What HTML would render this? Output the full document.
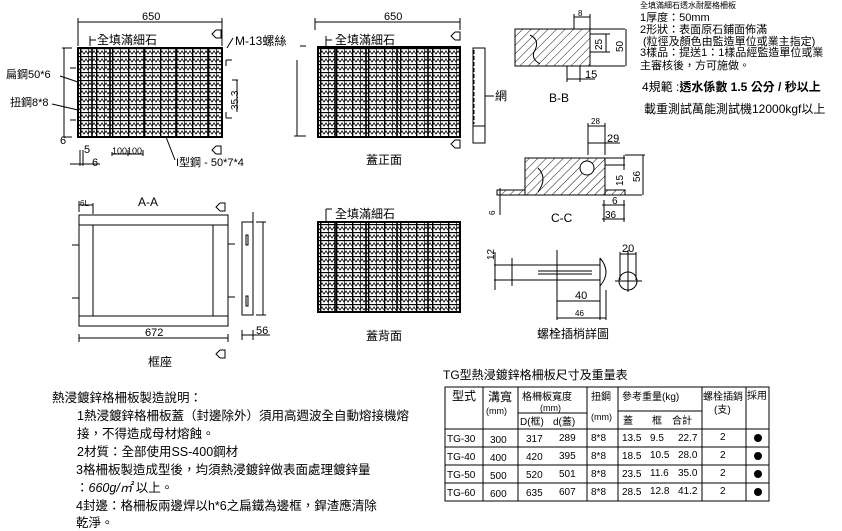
<!DOCTYPE html>
<html><head><meta charset="utf-8">
<style>
html,body{margin:0;padding:0;background:#fff;}
svg{display:block;}
text{font-family:"Liberation Sans","Noto Sans CJK TC",sans-serif;fill:#000;}
.s{font-size:11px;}
.m{font-size:12px;}
.n{font-size:12.5px;}
</style></head>
<body>
<svg width="842" height="531" viewBox="0 0 842 531" xmlns="http://www.w3.org/2000/svg">
<defs>
<pattern id="g" width="16" height="8" patternUnits="userSpaceOnUse">
<rect width="16" height="8" fill="#fff"/>
<rect x="0" y="0" width="16" height="1.2" fill="#000"/>
<polyline points="0,6 2,3 4,6 6,3 8,6 10,3 12,6 14,3 16,6" fill="none" stroke="#000" stroke-width="0.8"/>
<rect x="0" y="0" width="1.4" height="8" fill="#000"/>
<rect x="8" y="0" width="0.7" height="8" fill="#000"/>
</pattern>
<pattern id="h" width="6" height="6" patternUnits="userSpaceOnUse" patternTransform="rotate(45)">
<line x1="0" y1="0" x2="0" y2="6" stroke="#000" stroke-width="0.9"/>
</pattern>
</defs>
<g stroke="#000" fill="none" stroke-width="1">

<!-- top-left grating -->
<line x1="78" y1="22" x2="222" y2="22"/>
<line x1="78" y1="18" x2="78" y2="46"/><line x1="222" y1="18" x2="222" y2="46"/>
<rect x="78" y="48" width="144" height="89" fill="url(#g)" stroke-width="2"/>
<line x1="92" y1="48" x2="92" y2="137" stroke-width="1.6"/>
<line x1="110" y1="48" x2="110" y2="137" stroke-width="1.6"/>
<line x1="144" y1="48" x2="144" y2="137" stroke-width="1.6"/>
<line x1="176" y1="48" x2="176" y2="137" stroke-width="1.6"/>
<line x1="208" y1="48" x2="208" y2="137" stroke-width="1.6"/>
<line x1="62" y1="48" x2="72" y2="48"/><line x1="62" y1="137" x2="72" y2="137"/>
<line x1="64" y1="48" x2="64" y2="137"/>
<line x1="70" y1="68" x2="76" y2="68"/><line x1="70" y1="120" x2="76" y2="120"/>
<line x1="90" y1="36" x2="90" y2="46"/><line x1="90" y1="40" x2="96" y2="40"/>
<line x1="60" y1="76" x2="78" y2="82"/><line x1="52" y1="104" x2="78" y2="110"/>
<line x1="226" y1="60" x2="232" y2="60"/><line x1="226" y1="66" x2="226" y2="60"/>
<line x1="226" y1="118" x2="232" y2="118"/><line x1="226" y1="112" x2="226" y2="118"/>
<line x1="237" y1="80" x2="237" y2="112"/><line x1="232" y1="80" x2="238" y2="80"/>
<line x1="297" y1="60" x2="297" y2="136"/><line x1="294" y1="136" x2="300" y2="136"/>
<line x1="227" y1="48" x2="233" y2="38"/>
<line x1="166" y1="137" x2="175" y2="160"/>
<line x1="112" y1="152" x2="112" y2="156"/><line x1="112" y1="154" x2="143" y2="154"/>
<line x1="128" y1="150" x2="128" y2="156"/><line x1="143" y1="150" x2="143" y2="156"/>
<line x1="80" y1="150" x2="80" y2="166"/><line x1="83" y1="150" x2="83" y2="166"/>
<line x1="70" y1="164" x2="100" y2="164"/>
<path d="M216 30 l-4 4 4 4 M216 30 h5 v8 h-5" />
<path d="M216 146 l-4 4 4 4 M216 146 h5 v8 h-5" />

<!-- cover front -->
<line x1="315" y1="22" x2="460" y2="22"/>
<line x1="315" y1="18" x2="315" y2="30"/><line x1="460" y1="18" x2="460" y2="30"/>
<rect x="318" y="47" width="142" height="90" fill="url(#g)" stroke-width="2"/>
<line x1="335" y1="47" x2="335" y2="137" stroke-width="1.6"/>
<line x1="366" y1="47" x2="366" y2="137" stroke-width="1.6"/>
<line x1="397" y1="47" x2="397" y2="137" stroke-width="1.6"/>
<line x1="428" y1="47" x2="428" y2="137" stroke-width="1.6"/>
<line x1="326" y1="36" x2="326" y2="46"/><line x1="326" y1="40" x2="332" y2="40"/>
<line x1="300" y1="46" x2="306" y2="46"/><line x1="300" y1="136" x2="306" y2="136"/>
<path d="M455 32 l-4 4 4 4 M455 32 h5 v8 h-5" />
<path d="M455 140 l-4 4 4 4 M455 140 h5 v8 h-5" />
<rect x="473" y="48" width="12" height="95"/>
<line x1="474" y1="50" x2="474" y2="124" stroke-dasharray="4,2"/>
<line x1="473" y1="126" x2="485" y2="126"/>
<line x1="485" y1="96" x2="494" y2="96"/>

<!-- frame A-A -->
<rect x="79" y="215" width="149" height="111"/>
<line x1="79" y1="225" x2="228" y2="225"/><line x1="79" y1="316" x2="228" y2="316"/>
<line x1="93" y1="225" x2="93" y2="316"/><line x1="213" y1="225" x2="213" y2="316"/>
<line x1="79" y1="205" x2="93" y2="205"/><line x1="79" y1="201" x2="79" y2="212"/><line x1="93" y1="203" x2="93" y2="214"/>
<line x1="72" y1="245" x2="79" y2="245"/><line x1="72" y1="298" x2="79" y2="298"/>
<line x1="228" y1="244" x2="235" y2="244"/><line x1="228" y1="297" x2="235" y2="297"/>
<line x1="79" y1="338" x2="228" y2="338"/>
<line x1="79" y1="334" x2="79" y2="342"/><line x1="228" y1="334" x2="228" y2="342"/>
<path d="M220 203 l-4 4 4 4 M220 203 h5 v8 h-5" />
<path d="M220 350 l-4 4 4 4 M220 350 h5 v8 h-5" />
<rect x="242" y="222" width="11" height="93"/>
<rect x="246" y="235" width="2" height="10"/><rect x="246" y="296" width="2" height="10"/>
<line x1="253" y1="212" x2="253" y2="315"/>
<line x1="256" y1="222" x2="266" y2="222"/><line x1="256" y1="315" x2="266" y2="315"/>
<line x1="263" y1="222" x2="263" y2="315"/>
<line x1="242" y1="335" x2="270" y2="335"/><line x1="242" y1="330" x2="242" y2="340"/><line x1="253" y1="330" x2="253" y2="340"/>

<!-- cover back -->
<rect x="318" y="222" width="142" height="90" fill="url(#g)" stroke-width="2"/>
<line x1="335" y1="222" x2="335" y2="312" stroke-width="1.6"/>
<line x1="366" y1="222" x2="366" y2="312" stroke-width="1.6"/>
<line x1="397" y1="222" x2="397" y2="312" stroke-width="1.6"/>
<line x1="428" y1="222" x2="428" y2="312" stroke-width="1.6"/>
<line x1="326" y1="209" x2="326" y2="221"/><line x1="326" y1="209" x2="332" y2="209"/>

<!-- B-B -->
<rect x="515" y="29" width="75" height="37" fill="url(#h)"/>
<line x1="515" y1="29" x2="625" y2="29"/><line x1="515" y1="66" x2="625" y2="66"/>
<line x1="590" y1="29" x2="590" y2="66"/>
<line x1="574" y1="14" x2="574" y2="29"/><line x1="590" y1="14" x2="590" y2="29"/><line x1="574" y1="17" x2="590" y2="17"/>
<line x1="590" y1="34" x2="610" y2="34"/><line x1="590" y1="52" x2="610" y2="52"/><line x1="606" y1="34" x2="606" y2="52"/>
<line x1="626" y1="29" x2="626" y2="66"/>
<line x1="567" y1="66" x2="567" y2="82"/><line x1="580" y1="66" x2="580" y2="82"/><line x1="567" y1="79" x2="595" y2="79"/>
<path d="M530 35 q10 5 5 15 q-5 8 5 14"/>

<!-- C-C -->
<rect x="525" y="158" width="80" height="37" fill="url(#h)"/>
<rect x="497" y="190" width="28" height="5" fill="url(#h)"/>
<rect x="605" y="190" width="20" height="5" fill="url(#h)"/>
<line x1="605" y1="158" x2="625" y2="158"/><line x1="605" y1="165" x2="625" y2="165"/>
<line x1="497" y1="195" x2="642" y2="195"/>
<circle cx="587" cy="168" r="7" fill="#fff"/>
<line x1="588" y1="123" x2="588" y2="155"/><line x1="605" y1="123" x2="605" y2="155"/><line x1="588" y1="126" x2="605" y2="126"/>
<line x1="588" y1="143" x2="620" y2="143"/>
<line x1="625" y1="155" x2="645" y2="155"/><line x1="643" y1="155" x2="643" y2="195"/>
<line x1="624" y1="155" x2="624" y2="170"/>
<line x1="500" y1="188" x2="500" y2="215"/>
<line x1="602" y1="205" x2="625" y2="205"/><line x1="602" y1="219" x2="625" y2="219"/>
<line x1="604" y1="200" x2="604" y2="222"/><line x1="624" y1="200" x2="624" y2="222"/>
<path d="M538 168 q10 10 0 24"/>

<!-- bolt -->
<line x1="494" y1="265" x2="600" y2="265"/><line x1="494" y1="280" x2="600" y2="280"/>
<line x1="538" y1="274" x2="592" y2="274"/><line x1="538" y1="271" x2="592" y2="271"/>
<path d="M600 258 q12 14 0 28"/>
<line x1="512" y1="258" x2="512" y2="286"/>
<line x1="557" y1="250" x2="557" y2="320"/>
<line x1="600" y1="258" x2="600" y2="320"/>
<line x1="495" y1="252" x2="495" y2="290"/>
<line x1="557" y1="301" x2="600" y2="301"/><line x1="557" y1="318" x2="606" y2="318"/><line x1="606" y1="290" x2="606" y2="320"/>
<circle cx="628" cy="281" r="9"/>
<line x1="615" y1="281" x2="642" y2="281"/><line x1="628" y1="250" x2="628" y2="292"/>
<line x1="620" y1="252" x2="620" y2="280"/><line x1="636" y1="252" x2="636" y2="280"/>
<line x1="620" y1="254" x2="636" y2="254"/>

<!-- table -->
<rect x="445" y="387" width="324" height="114"/>
<line x1="445" y1="429" x2="769" y2="429"/>
<line x1="445" y1="447" x2="769" y2="447"/>
<line x1="445" y1="465" x2="769" y2="465"/>
<line x1="445" y1="483" x2="769" y2="483"/>
<line x1="483" y1="387" x2="483" y2="501"/>
<line x1="518" y1="387" x2="518" y2="501"/>
<line x1="587" y1="387" x2="587" y2="501"/>
<line x1="618" y1="387" x2="618" y2="501"/>
<line x1="702" y1="387" x2="702" y2="501"/>
<line x1="746" y1="387" x2="746" y2="501"/>
<line x1="518" y1="413" x2="587" y2="413"/>
<line x1="618" y1="411" x2="702" y2="411"/>
</g>

<g fill="#000">
<circle cx="758" cy="438" r="4"/><circle cx="758" cy="456" r="4"/><circle cx="758" cy="474" r="4"/><circle cx="758" cy="492" r="4"/>
</g>

<!-- texts -->
<text x="142" y="20" class="s">650</text>
<text x="97" y="44" class="m">全填滿細石</text>
<text x="235" y="45" class="m">M-13螺絲</text>
<text x="6" y="78" class="s">扁鋼50*6</text>
<text x="10" y="106" class="s">扭鋼8*8</text>
<text x="60" y="144" class="s">6</text>
<text x="84" y="153" class="s">5</text>
<text x="92" y="166" class="s">6</text>
<text x="112" y="154" font-size="9">100100</text>
<text x="176" y="166" class="s">I型鋼 - 50*7*4</text>
<text x="238" y="110" font-size="10" transform="rotate(-90 238 110)">35.3</text>
<text x="384" y="20" class="s">650</text>
<text x="335" y="44" class="m">全填滿細石</text>
<text x="495" y="100" class="m">網</text>
<text x="366" y="164" class="m">蓋正面</text>
<text x="138" y="206" class="m">A-A</text>
<text x="80" y="206" font-size="8">6L</text>
<text x="145" y="336" class="s">672</text>
<text x="256" y="334" class="s">56</text>
<text x="148" y="366" class="m">框座</text>
<text x="335" y="218" class="m">全填滿細石</text>
<text x="366" y="340" class="m">蓋背面</text>
<text x="549" y="102" class="m">B-B</text>
<text x="578" y="16" font-size="8">8</text>
<text x="585" y="78" class="s">15</text>
<text x="602" y="50" font-size="10" transform="rotate(-90 602 50)">25</text>
<text x="623" y="52" font-size="10" transform="rotate(-90 623 52)">50</text>
<text x="551" y="222" class="m">C-C</text>
<text x="607" y="142" class="s">29</text>
<text x="591" y="124" font-size="8">28</text>
<text x="623" y="186" font-size="10" transform="rotate(-90 623 186)">15</text>
<text x="640" y="182" font-size="10" transform="rotate(-90 640 182)">56</text>
<text x="612" y="204" font-size="10">6</text>
<text x="605" y="218" font-size="10">36</text>
<text x="495" y="215" font-size="8" transform="rotate(-90 495 215)">6</text>
<text x="494" y="260" font-size="10" transform="rotate(-90 494 260)">12</text>
<text x="575" y="299" class="s">40</text>
<text x="575" y="316" font-size="8">46</text>
<text x="622" y="252" class="s">20</text>
<text x="537" y="338" class="m">螺栓插梢詳圖</text>

<text x="640" y="8" font-size="8">全填滿細石透水耐壓格柵板</text>
<text x="640" y="21" class="s">1厚度：50mm</text>
<text x="640" y="33" class="s">2形狀：表面原石鋪面佈滿</text>
<text x="643" y="45" class="s">(粒徑及顏色由監造單位或業主指定)</text>
<text x="640" y="56" class="s">3樣品：提送1：1樣品經監造單位或業</text>
<text x="640" y="69" class="s">主審核後，方可施做。</text>
<text x="642" y="91" class="m">4規範 :<tspan font-weight="bold">透水係數 1.5 公分 / 秒以上</tspan></text>
<text x="644" y="113" class="m">載重測試萬能測試機12000kgf以上</text>

<text x="52" y="402" class="n">熱浸鍍鋅格柵板製造說明：</text>
<text x="77" y="420" class="n">1熱浸鍍鋅格柵板蓋（封邊除外）須用高週波全自動熔接機熔</text>
<text x="77" y="438" class="n">接，不得造成母材熔蝕。</text>
<text x="77" y="456" class="n">2材質：全部使用SS-400鋼材</text>
<text x="76" y="474" class="n">3格柵板製造成型後，均須熱浸鍍鋅做表面處理鍍鋅量</text>
<text x="76" y="492" class="n">：<tspan font-style="italic">660g/㎡</tspan> 以上。</text>
<text x="76" y="510" class="n">4封邊：格柵板兩邊焊以h*6之扁鐵為邊框，銲渣應清除</text>
<text x="76" y="527" class="n">乾淨。</text>

<text x="443" y="379" class="m">TG型熱浸鍍鋅格柵板尺寸及重量表</text>
<g font-size="10">
<text x="452" y="400" class="m">型式</text>
<text x="488" y="401" class="m">溝寬</text>
<text x="486" y="414" font-size="9">(mm)</text>
<text x="522" y="400">格柵板寬度</text>
<text x="540" y="411" font-size="9">(mm)</text>
<text x="520" y="425">D(框)</text><text x="553" y="425">d(蓋)</text>
<text x="591" y="400">扭鋼</text>
<text x="591" y="420" font-size="9">(mm)</text>
<text x="622" y="400">參考重量(kg)</text>
<text x="623" y="424">蓋</text><text x="652" y="424">框</text><text x="672" y="424">合計</text>
<text x="703" y="400">螺栓插銷</text>
<text x="714" y="413">(支)</text>
<text x="747" y="399">採用</text>

<text x="447" y="442">TG-30</text><text x="490" y="443">300</text><text x="526" y="442">317</text><text x="559" y="441">289</text><text x="591" y="441">8*8</text><text x="622" y="441">13.5</text><text x="650" y="441">9.5</text><text x="678" y="441">22.7</text><text x="720" y="440">2</text>
<text x="447" y="460">TG-40</text><text x="490" y="461">400</text><text x="526" y="460">420</text><text x="559" y="459">395</text><text x="591" y="459">8*8</text><text x="622" y="459">18.5</text><text x="650" y="458">10.5</text><text x="678" y="458">28.0</text><text x="720" y="458">2</text>
<text x="447" y="478">TG-50</text><text x="490" y="479">500</text><text x="526" y="478">520</text><text x="559" y="477">501</text><text x="591" y="477">8*8</text><text x="622" y="477">23.5</text><text x="650" y="476">11.6</text><text x="678" y="476">35.0</text><text x="720" y="476">2</text>
<text x="447" y="496">TG-60</text><text x="490" y="497">600</text><text x="526" y="496">635</text><text x="559" y="495">607</text><text x="591" y="495">8*8</text><text x="622" y="495">28.5</text><text x="650" y="494">12.8</text><text x="678" y="494">41.2</text><text x="720" y="494">2</text>
</g>
</svg>
</body></html>
